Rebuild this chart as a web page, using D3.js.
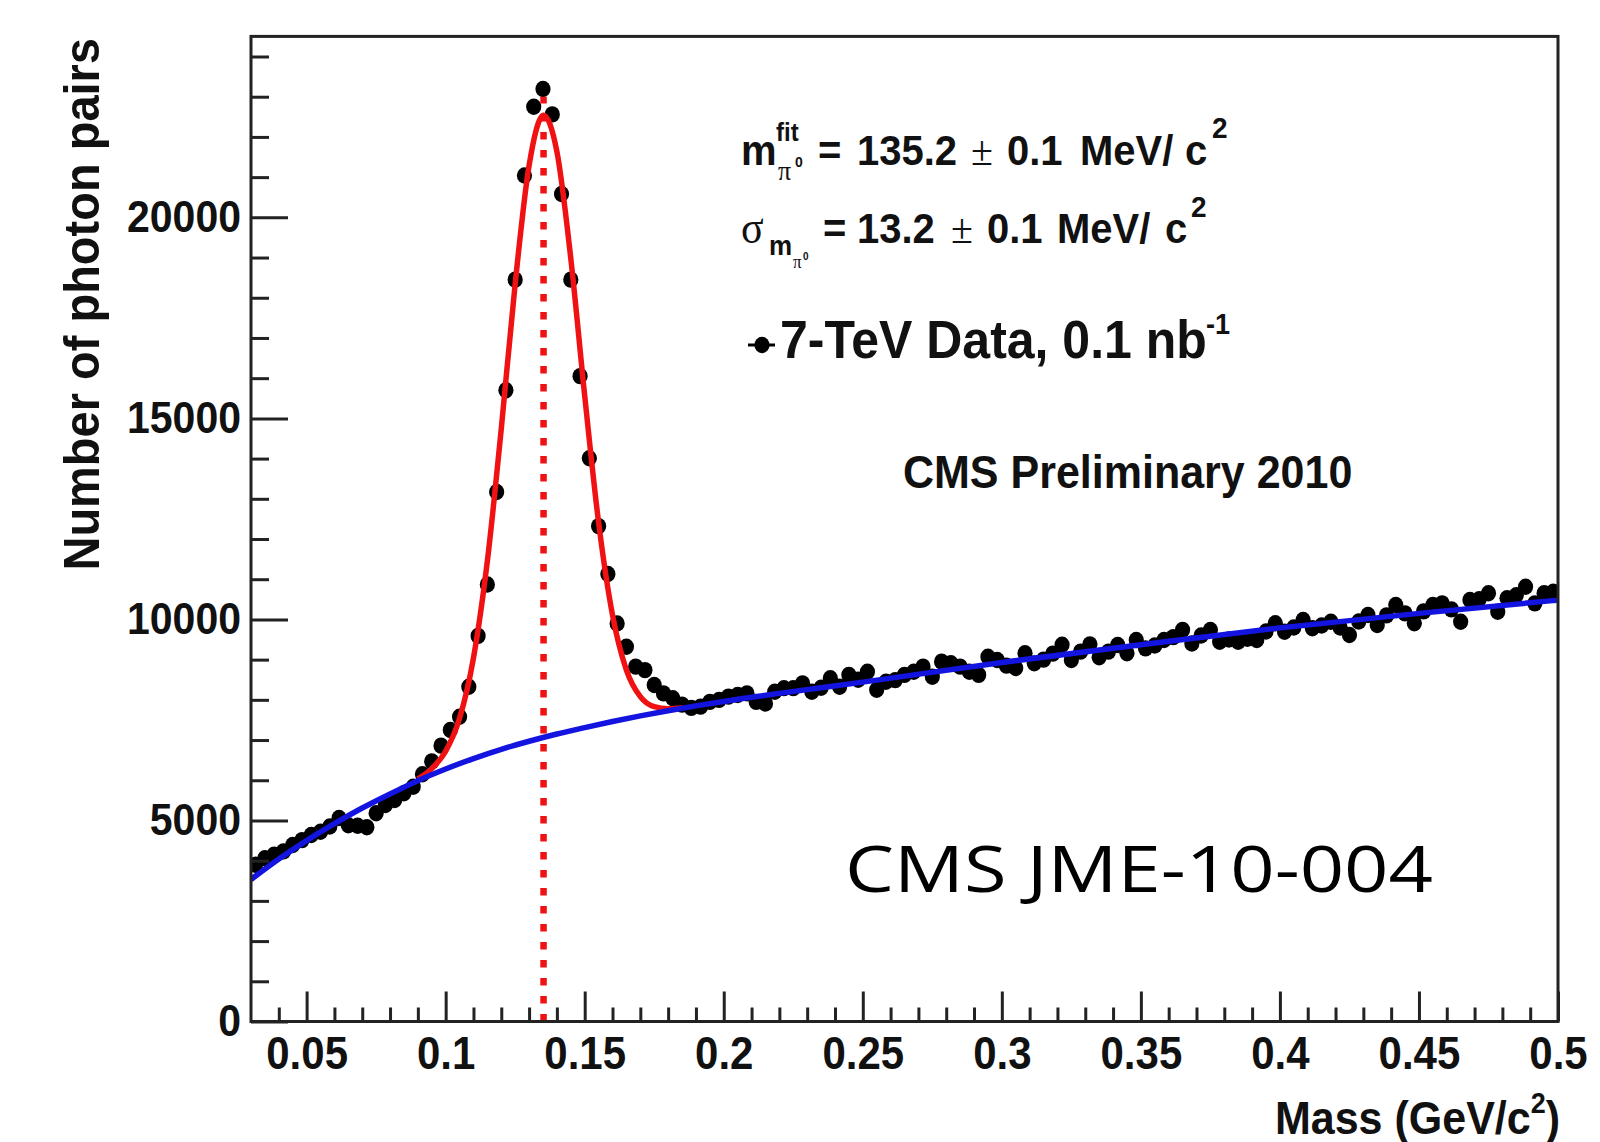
<!DOCTYPE html>
<html>
<head>
<meta charset="utf-8">
<title>pi0 mass peak</title>
<script src="https://cdn.jsdelivr.net/npm/d3@7"></script>
<style>
  body { margin: 0; background: #fff; }
  svg { display: block; }
</style>
</head>
<body>
<div id="chart"></div>
<script>
// di-photon invariant mass, 7 TeV data
const massRange = [0.03, 0.5];
const countRange = [0, 24500];
const binWidth = 1 / 300;   // GeV
const firstBin = 9;         // first bin inside the visible range

// entries per bin, starting at bin 9 (centre 0.0317 GeV)
const pairCounts = [
  3900, 4060, 4150, 4230, 4390, 4510, 4640, 4720, 4850, 5060,
  4880, 4870, 4830, 5180, 5385, 5510, 5675, 5840, 6150, 6470,
  6860, 7250, 7580, 8325, 9590, 10870, 13170, 15700, 18450, 21040,
  22750, 23190, 22560, 20580, 18450, 16050, 14010, 12320, 11130, 9900,
  9320, 8825, 8740, 8370, 8160, 8040, 7880, 7800, 7830, 7950,
  8000, 8080, 8120, 8160, 7950, 7910, 8200, 8290, 8290, 8410,
  8200, 8300, 8535, 8325, 8620, 8500, 8700, 8250, 8450, 8490,
  8620, 8700, 8825, 8575, 8950, 8910, 8825, 8700, 8620, 9070,
  8990, 8850, 8790, 9157, 8908, 9000, 9150, 9370, 8990, 9200,
  9380, 9060, 9200, 9363, 9157, 9488, 9281, 9350, 9488, 9560,
  9740, 9400, 9600, 9737, 9446, 9500, 9446, 9520, 9488, 9700,
  9903, 9694, 9800, 9985, 9779, 9850, 9943, 9800, 9612, 9950,
  10109, 9861, 10100, 10358, 10150, 9903, 10200, 10358, 10400, 10250,
  9943, 10483, 10500, 10649, 10191, 10525, 10600, 10813, 10400, 10650, 10689
];

// background fit (blue)
const bgMass = [0.03, 0.04, 0.05, 0.06, 0.07, 0.08, 0.09, 0.10, 0.11, 0.12, 0.13, 0.14, 0.15,
  0.16, 0.17, 0.18, 0.19, 0.20, 0.22, 0.25, 0.30, 0.35, 0.40, 0.45, 0.50];
const bgCounts = [3530, 4040, 4500, 4920, 5310, 5660, 5990, 6280, 6540, 6770, 6970, 7150, 7310,
  7460, 7600, 7730, 7850, 7960, 8160, 8440, 8930, 9370, 9790, 10150, 10480];

// signal + background fit (red)
const fitMass = [0.090, 0.095, 0.100, 0.105, 0.110, 0.115, 0.120, 0.125, 0.130, 0.1352,
  0.140, 0.145, 0.150, 0.155, 0.160, 0.165, 0.170, 0.175, 0.180, 0.185];
const fitCounts = [6034, 6290, 6722, 7540, 9042, 11454, 14744, 18351, 21289, 22540,
  21635, 18977, 15564, 12410, 10109, 8740, 8079, 7829, 7779, 7803];

const fitMean = 0.1352;     // GeV, 135.2 MeV
const fitMeanTop = 23000;

const xMajorTicks = [0.05, 0.1, 0.15, 0.2, 0.25, 0.3, 0.35, 0.4, 0.45, 0.5];
const xTickLabels = ["0.05", "0.1", "0.15", "0.2", "0.25", "0.3", "0.35", "0.4", "0.45", "0.5"];
const yMajorTicks = [0, 5000, 10000, 15000, 20000];
const yTickLabels = ["0", "5000", "10000", "15000", "20000"];

const W = 1600, H = 1142;
const frame = { left: 251, right: 1558, top: 36.4, bottom: 1021.5 };
const rootFont = '"Liberation Sans", Arial, Helvetica, sans-serif';
const serifFont = '"Liberation Serif", "DejaVu Serif", serif';
const ink = '#222';
const red = '#f01212';
const blue = '#1414e0';
const stretch = 1.08;   // the canvas text is a little taller than the font's own shape

const svg = d3.select('#chart').append('svg')
  .attr('width', W)
  .attr('height', H);

svg.append('rect').attr('width', W).attr('height', H).attr('fill', '#fff');

const x = d3.scaleLinear().domain(massRange).range([frame.left, frame.right]);
const y = d3.scaleLinear().domain(countRange).range([frame.bottom, frame.top]);

svg.append('clipPath').attr('id', 'plot-clip')
  .append('rect')
  .attr('x', frame.left).attr('y', frame.top)
  .attr('width', frame.right - frame.left)
  .attr('height', frame.bottom - frame.top);

const plot = svg.append('g').attr('clip-path', 'url(#plot-clip)');

// data points
const bins = pairCounts.map((c, i) => ({ m: (firstBin + i + 0.5) * binWidth, c }));
plot.selectAll('ellipse.pt')
  .data(bins)
  .enter()
  .append('ellipse')
  .attr('class', 'pt')
  .attr('cx', d => x(d.m))
  .attr('cy', d => y(d.c))
  .attr('rx', 7.6)
  .attr('ry', 8.2)
  .attr('fill', '#000');

// fitted mean
plot.append('line')
  .attr('x1', x(fitMean)).attr('x2', x(fitMean))
  .attr('y1', y(0)).attr('y2', y(fitMeanTop))
  .attr('stroke', red)
  .attr('stroke-width', 6.5)
  .attr('stroke-dasharray', '7.5,10.5');

const curve = d3.line()
  .x(d => x(d[0]))
  .y(d => y(d[1]))
  .curve(d3.curveMonotoneX);

plot.append('path')
  .datum(fitMass.map((m, i) => [m, fitCounts[i]]))
  .attr('fill', 'none')
  .attr('stroke', red)
  .attr('stroke-width', 5.5)
  .attr('d', curve);

plot.append('path')
  .datum(bgMass.map((m, i) => [m, bgCounts[i]]))
  .attr('fill', 'none')
  .attr('stroke', blue)
  .attr('stroke-width', 5.5)
  .attr('d', curve);

// axes: ticks point into the frame
function styleAxis(g, size) {
  g.select('.domain').remove();
  g.selectAll('.tick line').attr('stroke', ink).attr('stroke-width', 3);
  g.selectAll('.tick text')
    .attr('fill', '#111')
    .attr('transform', `scale(1,${stretch})`)
    .style('font-family', rootFont)
    .style('font-weight', 'bold')
    .style('font-size', size + 'px');
}

const xMinor = d3.range(0.04, 0.5, 0.01).filter(v => Math.abs(v * 20 - Math.round(v * 20)) > 1e-6);
const yMinor = d3.range(1000, 24500, 1000).filter(v => v % 5000 !== 0);

svg.append('g')
  .attr('transform', `translate(0,${frame.bottom})`)
  .call(d3.axisBottom(x).tickValues(xMinor).tickFormat('').tickSize(-14))
  .call(g => styleAxis(g, 42));

svg.append('g')
  .attr('transform', `translate(0,${frame.bottom})`)
  .call(d3.axisBottom(x).tickValues(xMajorTicks).tickFormat((d, i) => xTickLabels[i]).tickSize(-30).tickPadding(14))
  .call(g => styleAxis(g, 42));

svg.append('g')
  .attr('transform', `translate(${frame.left},0)`)
  .call(d3.axisLeft(y).tickValues(yMinor).tickFormat('').tickSize(-18))
  .call(g => styleAxis(g, 41));

svg.append('g')
  .attr('transform', `translate(${frame.left},0)`)
  .call(d3.axisLeft(y).tickValues(yMajorTicks).tickFormat((d, i) => yTickLabels[i]).tickSize(-37).tickPadding(10))
  .call(g => styleAxis(g, 41));

svg.append('rect')
  .attr('x', frame.left).attr('y', frame.top)
  .attr('width', frame.right - frame.left)
  .attr('height', frame.bottom - frame.top)
  .attr('fill', 'none')
  .attr('stroke', ink)
  .attr('stroke-width', 3);

// text helper: baseline at (px, py), stretched upward from there
function label(str, px, py, size, opts = {}) {
  const sy = opts.stretch || stretch;
  return svg.append('text')
    .attr('transform', `translate(${px},${py}) scale(1,${sy})`)
    .attr('fill', opts.fill || '#111')
    .attr('text-anchor', opts.anchor || 'start')
    .style('font-family', opts.family || rootFont)
    .style('font-weight', opts.weight || 'bold')
    .style('font-size', size + 'px')
    .text(str);
}

// axis titles
const xTitle = label('Mass (GeV/c', 1560, 1134, 43, { anchor: 'end' });
xTitle.append('tspan').attr('dy', -19).style('font-size', '27px').text('2');
xTitle.append('tspan').attr('dy', 19).style('font-size', '43px').text(')');

svg.append('text')
  .attr('transform', `translate(99,38) scale(${stretch},1) rotate(-90)`)
  .attr('text-anchor', 'end')
  .attr('fill', '#111')
  .style('font-family', rootFont)
  .style('font-weight', 'bold')
  .style('font-size', '47px')
  .text('Number of photon pairs');

// fit results
label('m', 741, 165, 40);
label('fit', 776, 141, 24);
label('π', 778, 180, 26, { family: serifFont, weight: 'normal' });
label('0', 795, 167, 14);
label('=', 818, 165, 40);
label('135.2', 857, 165, 40);
label('±', 971, 165, 40, { family: serifFont, weight: 'normal' });
label('0.1', 1007, 165, 40);
label('MeV/', 1080, 165, 40);
label('c', 1185, 165, 40);
label('2', 1212, 138, 28);

label('σ', 741, 243, 42, { family: serifFont, weight: 'normal' });
label('m', 769, 255, 26);
label('π', 793, 268, 17, { family: serifFont, weight: 'normal' });
label('0', 803, 260, 10);
label('=', 823, 243, 40);
label('13.2', 857, 243, 40);
label('±', 951, 243, 40, { family: serifFont, weight: 'normal' });
label('0.1', 987, 243, 40);
label('MeV/', 1057, 243, 40);
label('c', 1165, 243, 40);
label('2', 1191, 217, 28);

// legend entry
svg.append('line')
  .attr('x1', 748).attr('x2', 775)
  .attr('y1', 345).attr('y2', 345)
  .attr('stroke', '#000').attr('stroke-width', 3);
svg.append('ellipse')
  .attr('cx', 762).attr('cy', 345).attr('rx', 7.6).attr('ry', 8.2).attr('fill', '#000');
label('7-TeV Data, 0.1 nb', 780, 358, 50);
label('-1', 1206, 334, 27);

label('CMS Preliminary 2010', 903, 488, 43);

label('CMS JME-10-004', 845, 892, 64, { family: '"Open Sans", "Noto Sans", sans-serif', weight: 'normal', fill: '#000', stretch: 1 })
  .attr('textLength', 588)
  .attr('lengthAdjust', 'spacingAndGlyphs');
</script>
</body>
</html>
